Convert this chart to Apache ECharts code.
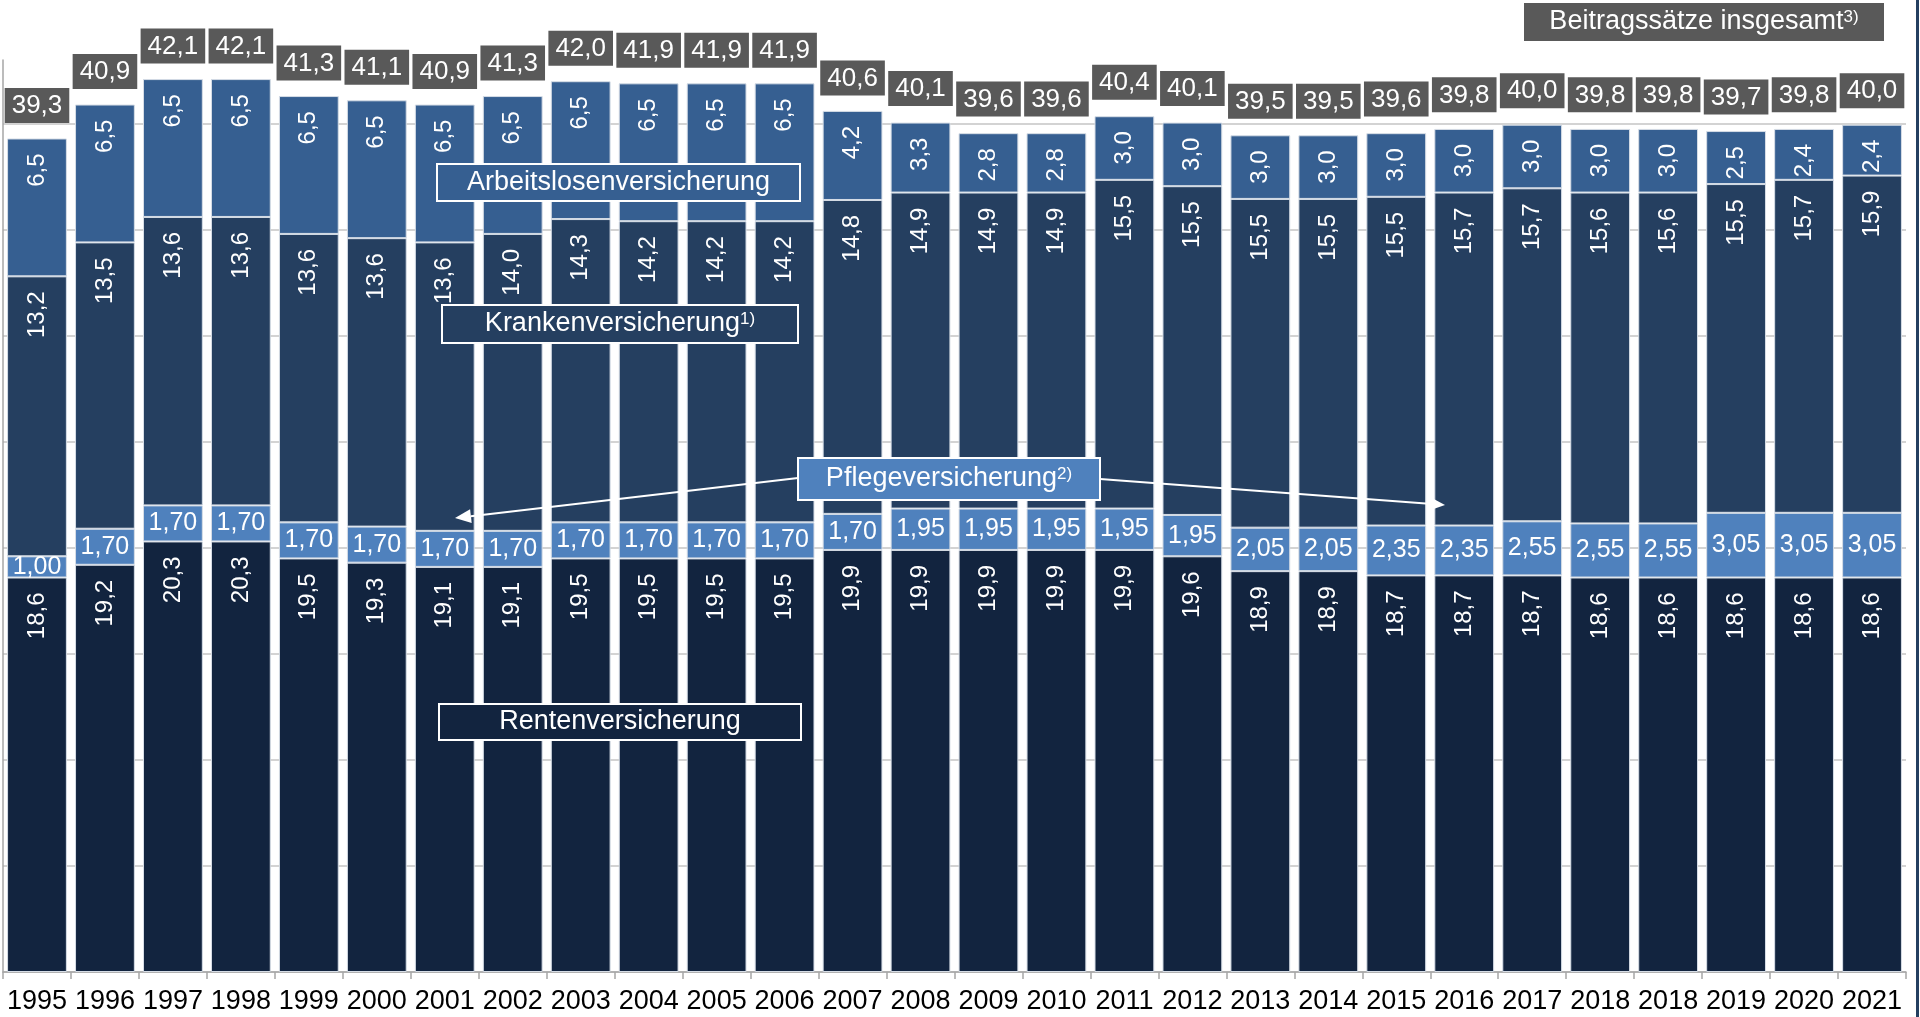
<!DOCTYPE html>
<html>
<head>
<meta charset="utf-8">
<script src="https://cdn.jsdelivr.net/npm/echarts@6/dist/echarts.min.js"></script>
<style>
html,body{margin:0;padding:0;background:#ffffff;}
#c{width:1920px;height:1017px;}
</style>
</head>
<body>
<div id="c"></div>
<script>
const years = ['1995','1996','1997','1998','1999','2000','2001','2002','2003','2004','2005','2006','2007','2008','2009','2010','2011','2012','2013','2014','2015','2016','2017','2018','2018','2019','2020','2021'];
const renten = [18.6,19.2,20.3,20.3,19.5,19.3,19.1,19.1,19.5,19.5,19.5,19.5,19.9,19.9,19.9,19.9,19.9,19.6,18.9,18.9,18.7,18.7,18.7,18.6,18.6,18.6,18.6,18.6];
const pflege = [1.00,1.70,1.70,1.70,1.70,1.70,1.70,1.70,1.70,1.70,1.70,1.70,1.70,1.95,1.95,1.95,1.95,1.95,2.05,2.05,2.35,2.35,2.55,2.55,2.55,3.05,3.05,3.05];
const kranken = [13.2,13.5,13.6,13.6,13.6,13.6,13.6,14.0,14.3,14.2,14.2,14.2,14.8,14.9,14.9,14.9,15.5,15.5,15.5,15.5,15.5,15.7,15.7,15.6,15.6,15.5,15.7,15.9];
const arbeitslos = [6.5,6.5,6.5,6.5,6.5,6.5,6.5,6.5,6.5,6.5,6.5,6.5,4.2,3.3,2.8,2.8,3.0,3.0,3.0,3.0,3.0,3.0,3.0,3.0,3.0,2.5,2.4,2.4];
const totals = [39.3,40.9,42.1,42.1,41.3,41.1,40.9,41.3,42.0,41.9,41.9,41.9,40.6,40.1,39.6,39.6,40.4,40.1,39.5,39.5,39.6,39.8,40.0,39.8,39.8,39.7,39.8,40.0];
const gridValues = [0,5,10,15,20,25,30,35,40];

const FONT = '"Liberation Sans", Arial, sans-serif';
const C_RENTEN = '#12243f';
const C_PFLEGE = '#4f81bd';
const C_KRANKEN = '#253f60';
const C_ALV = '#365f91';
const C_BOX = '#595959';

function de(v, d){ return v.toFixed(d).replace('.', ','); }

const rotLabel = {
  show: true, position: 'insideTop', distance: 15, rotate: 90,
  align: 'right', verticalAlign: 'middle',
  color: '#ffffff', fontSize: 24, fontFamily: FONT,
  formatter: p => de(p.value, 1)
};
const itemBorder = { borderColor: '#d6dde6', borderWidth: 1 };

function box(cx, cy, w, h, fill, mainText, sup, fs) {
  const rich = {
    m: { fontSize: fs, fill: '#ffffff', color: '#ffffff', fontFamily: FONT },
    s: { fontSize: Math.round(fs*0.62), fill: '#ffffff', color: '#ffffff', fontFamily: FONT, verticalAlign: 'top' }
  };
  return {
    type: 'group', z: 100,
    children: [
      { type: 'rect', z: 100, shape: { x: cx - w/2, y: cy - h/2, width: w, height: h },
        style: { fill: fill, stroke: '#ffffff', lineWidth: 2 } },
      { type: 'text', z: 101, x: cx, y: cy,
        style: { text: sup ? '{m|' + mainText + '}{s|' + sup + '}' : '{m|' + mainText + '}',
                 rich: rich, align: 'center', verticalAlign: 'middle', fill: '#ffffff', font: fs + 'px ' + FONT } }
    ]
  };
}

function arrow(x1, y1, x2, y2) {
  const dx = x2 - x1, dy = y2 - y1, L = Math.sqrt(dx*dx + dy*dy);
  const ux = dx / L, uy = dy / L;
  const hl = 16, hw = 7;
  const bx = x2 - ux*hl, by = y2 - uy*hl;
  const px = -uy*hw, py = ux*hw;
  return [
    { type: 'line', z: 100, shape: { x1: x1, y1: y1, x2: bx, y2: by }, style: { stroke: '#ffffff', lineWidth: 2 } },
    { type: 'polygon', z: 100, shape: { points: [[x2, y2], [bx + px, by + py], [bx - px, by - py]] }, style: { fill: '#ffffff' } }
  ];
}

const chart = echarts.init(document.getElementById('c'), null, { renderer: 'canvas' });
chart.setOption({
  backgroundColor: '#ffffff',
  animation: false,
  textStyle: { fontFamily: FONT },
  grid: { left: 3, right: 14, top: 60, bottom: 45, containLabel: false },
  xAxis: {
    type: 'category', data: years,
    axisLine: { show: true, lineStyle: { color: '#a6a6a6', width: 1.5 } },
    axisTick: { show: true, length: 7, lineStyle: { color: '#a6a6a6', width: 1.5 } },
    axisLabel: { color: '#000000', fontSize: 27, margin: 16, interval: 0, fontFamily: FONT },
    splitLine: { show: false }
  },
  yAxis: {
    type: 'value', min: 0, max: 43, interval: 5,
    axisLine: { show: true, lineStyle: { color: '#a6a6a6', width: 1.5 } },
    axisTick: { show: false },
    axisLabel: { show: false },
    splitLine: { show: false }
  },
  series: [
    {
      name: 'Rentenversicherung', type: 'bar', stack: 'a', data: renten, barCategoryGap: '12%',
      itemStyle: Object.assign({ color: C_RENTEN }, itemBorder),
      label: rotLabel,
      markLine: {
        silent: true, symbol: 'none', z: 0,
        label: { show: false },
        lineStyle: { color: '#c4c4c4', width: 1.5, type: 'solid' },
        data: gridValues.map(v => ({ yAxis: v }))
      },
      z: 2
    },
    {
      name: 'Pflegeversicherung', type: 'bar', stack: 'a', data: pflege,
      itemStyle: Object.assign({ color: C_PFLEGE }, itemBorder),
      label: { show: true, position: 'inside', color: '#ffffff', fontSize: 25, fontFamily: FONT,
               formatter: p => de(p.value, 2) },
      z: 2
    },
    {
      name: 'Krankenversicherung', type: 'bar', stack: 'a', data: kranken,
      itemStyle: Object.assign({ color: C_KRANKEN }, itemBorder),
      label: rotLabel, z: 2
    },
    {
      name: 'Arbeitslosenversicherung', type: 'bar', stack: 'a', data: arbeitslos,
      itemStyle: Object.assign({ color: C_ALV }, itemBorder),
      label: rotLabel, z: 2
    },
    {
      name: 'Beitragssätze insgesamt', type: 'scatter', data: totals,
      symbolSize: 1, itemStyle: { color: 'rgba(0,0,0,0)' },
      label: { show: true, position: 'top', distance: 15, color: '#ffffff', fontSize: 26, fontFamily: FONT,
               backgroundColor: C_BOX, padding: [4, 7, 3, 7], lineHeight: 28, opacity: 1,
               formatter: p => de(p.value, 1) },
      z: 5
    }
  ],
  graphic: [
    { type: 'rect', z: 100, shape: { x: 1916, y: 0, width: 3, height: 1017 }, style: { fill: '#243f60' } },
    box(1704, 22, 362, 40, C_BOX, 'Beitragssätze insgesamt', '3)', 27),
    box(618.5, 182.5, 363, 37, C_ALV, 'Arbeitslosenversicherung', null, 27),
    box(620, 324, 356, 38, C_KRANKEN, 'Krankenversicherung', '1)', 27),
    box(620, 722, 362, 36, C_RENTEN, 'Rentenversicherung', null, 27),
    ...arrow(798, 478, 455, 518),
    ...arrow(1100, 479, 1445, 505),
    box(949, 479, 302, 42, C_PFLEGE, 'Pflegeversicherung', '2)', 27)
  ]
});
</script>
</body>
</html>
